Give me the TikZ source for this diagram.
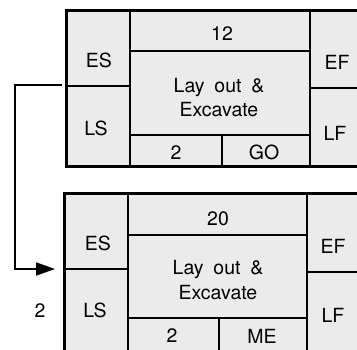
\documentclass[tikz,border=0pt]{standalone}
\usepackage{fontspec}
\setmainfont{TeX Gyre Heros}
\usetikzlibrary{arrows.meta}

\begin{document}
\begin{tikzpicture}[x=1pt, y=-1pt,
    frame/.style={rectangle, draw, line width=3pt, fill=black!8, inner sep=0pt, outer sep=0pt, anchor=north west},
    cell/.style={line width=1.6pt},
    txt/.style={font=\fontsize{19.5}{22}\selectfont, inner sep=0pt, text height=14pt, text depth=0pt},
    arr/.style={-{Triangle[length=19pt,width=13pt]}, line width=1.8pt}
]
    \useasboundingbox (0,0) rectangle (357,349);
    \clip (0,0) rectangle (357,349);

    % upper activity
    \node[frame, minimum width=314pt, minimum height=156pt] (act1) at (66,10) {};
    \draw[cell] (130,10) -- (130,166);
    \draw[cell] (310,10) -- (310,166);
    \draw[cell] (66,86) -- (130,86);
    \draw[cell] (310,88) -- (380,88);
    \draw[cell] (130,51) -- (310,51);
    \draw[cell] (130,135) -- (310,135);
    \draw[cell] (222,135) -- (222,166);

    \node[txt] (es1)  at (99,60)   {ES};
    \node[txt] (ls1)  at (96,128)  {LS};
    \node[txt] (dur1) at (222,33)  {12};
    \node[txt] (nm1)  at (219,85)  {Lay\enspace out\enspace \&};
    \node[txt] (nm1b) at (219,109) {Excavate};
    \node[txt] (tf1)  at (176,152) {2};
    \node[txt] (res1) at (264,152) {GO};
    \node[txt] (ef1)  at (337,62)  {EF};
    \node[txt] (lf1)  at (335,133) {LF};

    % lower activity
    \node[frame, minimum width=320pt, minimum height=160pt] (act2) at (64,193) {};
    \draw[cell] (128,193) -- (128,353);
    \draw[cell] (307,193) -- (307,353);
    \draw[cell] (64,269) -- (128,269);
    \draw[cell] (307,272) -- (380,272);
    \draw[cell] (128,235) -- (307,235);
    \draw[cell] (128,318) -- (307,318);
    \draw[cell] (219,318) -- (219,353);

    \node[txt] (es2)  at (98,243)  {ES};
    \node[txt] (ls2)  at (95,310)  {LS};
    \node[txt] (dur2) at (218,218) {20};
    \node[txt] (nm2)  at (218,267) {Lay\enspace out\enspace \&};
    \node[txt] (nm2b) at (218,292) {Excavate};
    \node[txt] (tf2)  at (172,335) {2};
    \node[txt] (res2) at (262,336) {ME};
    \node[txt] (ef2)  at (333,246) {EF};
    \node[txt] (lf2)  at (333,315) {LF};

    \node[txt] (lag) at (40,310) {2};

    \draw[arr] ([xshift=-4pt,yshift=3pt]act1.west) -- ++(-47,0) |- ([xshift=-9pt,yshift=4pt]act2.west);
\end{tikzpicture}
\end{document}
